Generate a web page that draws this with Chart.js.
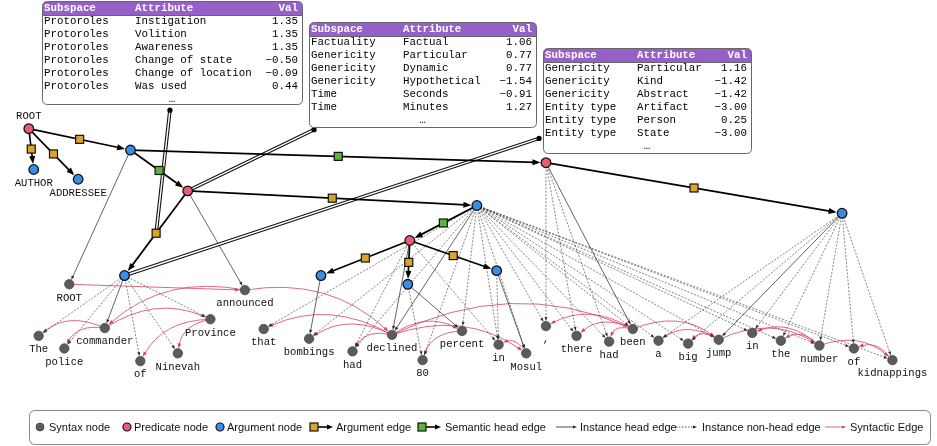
<!DOCTYPE html>
<html>
<head>
<meta charset="utf-8">
<script src="https://cdn.jsdelivr.net/npm/chart.js@4.4.1/dist/chart.umd.min.js"></script>
<style>
  html, body { margin: 0; padding: 0; background: #fff; }
  #wrap { width: 937px; height: 446px; }
</style>
</head>
<body>
<div id="wrap"><canvas id="graph"></canvas></div>
<script>
// syntax tokens (grey nodes)
const tokenText = ['ROOT', 'The', 'police', 'commander', 'of', 'Ninevah', 'Province', 'announced',
  'that', 'bombings', 'had', 'declined', '80', 'percent', 'in', 'Mosul', ',', 'there', 'had', 'been',
  'a', 'big', 'jump', 'in', 'the', 'number', 'of', 'kidnappings'];
const tokenX = [64, 33, 59, 100, 136, 174, 207, 242, 261, 307, 351, 391, 422, 462, 499, 527,
  547, 578, 611, 635, 661, 691, 722, 756, 785, 824, 859, 898];
const tokenY = [286, 339, 352, 331, 365, 357, 322, 292, 332, 342, 355, 338, 364, 334, 348, 357,
  329, 339, 345, 332, 344, 347, 343, 336, 344, 349, 352, 364];

// semantic nodes (predicates / arguments)
const semText = ['ROOT', 'AUTHOR', 'ADDRESSEE', '', '', '', '', '', '', '', '', '', ''];
const semKind = ['pred', 'arg', 'arg', 'arg', 'pred', 'arg', 'pred', 'arg', 'pred', 'arg', 'arg', 'arg', 'arg'];
const semX = [23, 28, 73, 126, 184, 120, 547, 477, 409, 319, 407, 497, 847];
const semY = [126, 168, 178, 148, 190, 277, 161, 205, 241, 277, 286, 272, 213];

// edges: [from, to]
const argumentEdges = [[0, 1], [0, 2], [0, 3], [4, 5], [4, 7], [8, 9], [8, 10], [8, 11], [6, 12]];
const semHeadEdges = [[3, 4], [3, 6], [7, 8]];
// semantic node -> token
const instanceHead = [[3, 0], [4, 7], [5, 3], [7, 11], [6, 19], [8, 11], [9, 9], [10, 13], [11, 15], [12, 22]];
const instanceNonHead = [[5, 1], [5, 2], [5, 4], [5, 5], [5, 6],
  [7, 8], [7, 9], [7, 10], [7, 12], [7, 13], [7, 14], [7, 15], [7, 16], [7, 17], [7, 18], [7, 19],
  [7, 20], [7, 21], [7, 22], [7, 23], [7, 24], [7, 25], [7, 26], [7, 27],
  [6, 16], [6, 17], [6, 18], [8, 10], [8, 14], [10, 12], [11, 14],
  [12, 20], [12, 21], [12, 23], [12, 24], [12, 25], [12, 26], [12, 27]];
// token head -> dependent
const syntacticEdges = [[0, 7], [7, 3], [3, 1], [3, 2], [3, 6], [6, 4], [6, 5], [7, 11], [11, 8],
  [11, 9], [11, 10], [11, 13], [13, 12], [11, 15], [15, 14], [11, 19], [19, 16], [19, 17], [19, 18],
  [19, 22], [22, 20], [22, 21], [22, 25], [25, 23], [25, 24], [25, 27], [27, 26]];

// attribute tables
const tableHeader = ['Subspace', 'Attribute', 'Val'];
const protoroleRows = [
  ['Protoroles', 'Instigation', 1.35], ['Protoroles', 'Volition', 1.35], ['Protoroles', 'Awareness', 1.35],
  ['Protoroles', 'Change of state', -0.50], ['Protoroles', 'Change of location', -0.09], ['Protoroles', 'Was used', 0.44]];
const predicateRows = [
  ['Factuality', 'Factual', 1.06], ['Genericity', 'Particular', 0.77], ['Genericity', 'Dynamic', 0.77],
  ['Genericity', 'Hypothetical', -1.54], ['Time', 'Seconds', -0.91], ['Time', 'Minutes', 1.27]];
const argumentRows = [
  ['Genericity', 'Particular', 1.16], ['Genericity', 'Kind', -1.42], ['Genericity', 'Abstract', -1.42],
  ['Entity type', 'Artifact', -3.00], ['Entity type', 'Person', 0.25], ['Entity type', 'State', -3.00]];

// layout of the tables (where they sit, which element they describe)
const tableLayout = [
  { rows: protoroleRows, x: 42, y: 1, w: 260, h: 103, cols: [2, 93, 256], anchor: [166, 107], edge: 3 },
  { rows: predicateRows, x: 309, y: 22, w: 227, h: 105, cols: [2, 94, 223], anchor: [312, 127], node: 4 },
  { rows: argumentRows, x: 543, y: 48, w: 208, h: 105, cols: [2, 94, 204], anchor: [540, 136], node: 5 }
];

const COLORS = {
  syntax: '#5b5b5b', pred: '#ec5b75', arg: '#3a8de6', argEdge: '#d9a42a', headEdge: '#5db43a',
  red: '#d8425f', purple: '#9660c8'
};
const MONO = '"Liberation Mono", "Courier New", monospace';
const SANS = '"Liberation Sans", Arial, sans-serif';

function arrowHead(ctx, x, y, a, len, wid, color) {
  ctx.save();
  ctx.fillStyle = color;
  ctx.beginPath();
  ctx.moveTo(x, y);
  ctx.lineTo(x - len * Math.cos(a) + wid / 2 * Math.sin(a), y - len * Math.sin(a) - wid / 2 * Math.cos(a));
  ctx.lineTo(x - len * Math.cos(a) - wid / 2 * Math.sin(a), y - len * Math.sin(a) + wid / 2 * Math.cos(a));
  ctx.closePath();
  ctx.fill();
  ctx.restore();
}

function arrowLine(ctx, x1, y1, x2, y2, o) {
  const a = Math.atan2(y2 - y1, x2 - x1);
  const ex = x2 - Math.cos(a) * o.trim, ey = y2 - Math.sin(a) * o.trim;
  ctx.save();
  ctx.strokeStyle = o.color;
  ctx.lineWidth = o.lw;
  ctx.setLineDash(o.dash || []);
  ctx.beginPath();
  ctx.moveTo(x1, y1);
  ctx.lineTo(ex - Math.cos(a) * o.len * 0.7, ey - Math.sin(a) * o.len * 0.7);
  ctx.stroke();
  ctx.restore();
  arrowHead(ctx, ex, ey, a, o.len, o.wid, o.color);
}

// curved syntactic edge, always bulging upwards
function arcLine(ctx, x1, y1, x2, y2, o) {
  const dx = x2 - x1, dy = y2 - y1, d = Math.hypot(dx, dy);
  let nx = -dy / d, ny = dx / d;
  if (ny > 0) { nx = -nx; ny = -ny; }
  const off = 0.2 * d + 7;
  const cx = (x1 + x2) / 2 + nx * off, cy = (y1 + y2) / 2 + ny * off;
  const a = Math.atan2(y2 - cy, x2 - cx);
  const ex = x2 - Math.cos(a) * o.trim, ey = y2 - Math.sin(a) * o.trim;
  ctx.save();
  ctx.strokeStyle = o.color;
  ctx.lineWidth = o.lw;
  ctx.beginPath();
  ctx.moveTo(x1, y1);
  ctx.quadraticCurveTo(cx, cy, ex - Math.cos(a) * o.len * 0.6, ey - Math.sin(a) * o.len * 0.6);
  ctx.stroke();
  ctx.restore();
  arrowHead(ctx, ex, ey, a, o.len, o.wid, o.color);
}

function roundRect(ctx, x, y, w, h, r) {
  ctx.beginPath();
  ctx.moveTo(x + r, y);
  ctx.lineTo(x + w - r, y);
  ctx.quadraticCurveTo(x + w, y, x + w, y + r);
  ctx.lineTo(x + w, y + h - r);
  ctx.quadraticCurveTo(x + w, y + h, x + w - r, y + h);
  ctx.lineTo(x + r, y + h);
  ctx.quadraticCurveTo(x, y + h, x, y + h - r);
  ctx.lineTo(x, y + r);
  ctx.quadraticCurveTo(x, y, x + r, y);
  ctx.closePath();
}

function fmt(v) {
  return (v < 0 ? '\u2212' : '') + Math.abs(v).toFixed(2);
}

const graphPlugin = {
  id: 'graph',
  beforeDatasetsDraw(chart) {
    const ctx = chart.ctx;
    const sx = v => chart.scales.x.getPixelForValue(v);
    const sy = v => chart.scales.y.getPixelForValue(v);
    const tok = i => [sx(tokenX[i]), sy(tokenY[i])];
    const sem = i => [sx(semX[i]), sy(semY[i])];
    const allSemEdges = argumentEdges.map(e => [e[0], e[1], 'arg']).concat(semHeadEdges.map(e => [e[0], e[1], 'head']));
    const mid = e => { const a = sem(e[0]), b = sem(e[1]); return [(a[0] + b[0]) / 2, (a[1] + b[1]) / 2]; };

    // syntactic edges
    syntacticEdges.forEach(([h, d]) => {
      const a = tok(h), b = tok(d);
      const o = { color: COLORS.red, lw: 0.8, trim: 5, len: 5, wid: 3.6 };
      if (h === 0) arrowLine(ctx, a[0], a[1], b[0], b[1], o);
      else arcLine(ctx, a[0], a[1], b[0], b[1], o);
    });

    // instance edges
    instanceNonHead.forEach(([s, t]) => {
      const a = sem(s), b = tok(t);
      arrowLine(ctx, a[0], a[1], b[0], b[1], { color: '#333', lw: 0.6, dash: [2, 1.5], trim: 5, len: 4, wid: 3 });
    });
    instanceHead.forEach(([s, t]) => {
      const a = sem(s), b = tok(t);
      arrowLine(ctx, a[0], a[1], b[0], b[1], { color: '#222', lw: 0.7, trim: 5, len: 4, wid: 3 });
    });

    // table connectors (double lines)
    tableLayout.forEach(t => {
      const a = [sx(t.anchor[0]), sy(t.anchor[1])];
      const b = t.node !== undefined ? sem(t.node) : mid(argumentEdges[t.edge]);
      ctx.save();
      ctx.lineCap = 'butt';
      ctx.strokeStyle = '#111';
      ctx.lineWidth = 3.6;
      ctx.beginPath(); ctx.moveTo(a[0], a[1]); ctx.lineTo(b[0], b[1]); ctx.stroke();
      ctx.strokeStyle = '#fff';
      ctx.lineWidth = 1.4;
      ctx.beginPath(); ctx.moveTo(a[0], a[1]); ctx.lineTo(b[0], b[1]); ctx.stroke();
      ctx.fillStyle = '#000';
      ctx.beginPath(); ctx.arc(a[0], a[1], 2.6, 0, Math.PI * 2); ctx.fill();
      ctx.restore();
    });

    // semantic edges with square markers at midpoints
    allSemEdges.forEach(e => {
      const a = sem(e[0]), b = sem(e[1]);
      arrowLine(ctx, a[0], a[1], b[0], b[1], { color: '#000', lw: 1.7, trim: 5.5, len: 8, wid: 6 });
    });
    allSemEdges.forEach(e => {
      const m = mid(e);
      ctx.save();
      ctx.fillStyle = e[2] === 'arg' ? COLORS.argEdge : COLORS.headEdge;
      ctx.strokeStyle = '#111';
      ctx.lineWidth = 1.2;
      ctx.fillRect(m[0] - 4, m[1] - 4, 8, 8);
      ctx.strokeRect(m[0] - 4, m[1] - 4, 8, 8);
      ctx.restore();
    });
  },
  afterDatasetsDraw(chart) {
    const ctx = chart.ctx;
    const sx = v => chart.scales.x.getPixelForValue(v);
    const sy = v => chart.scales.y.getPixelForValue(v);

    // node labels
    ctx.save();
    ctx.font = '10.6px ' + MONO;
    ctx.fillStyle = '#111';
    ctx.textAlign = 'center';
    ctx.textBaseline = 'middle';
    tokenText.forEach((t, i) => ctx.fillText(t, sx(tokenX[i]), sy(tokenY[i]) + 13.5));
    semText.forEach((t, i) => {
      if (!t) return;
      const dy = semKind[i] === 'pred' ? -12 : 14;
      ctx.fillText(t, sx(semX[i]), sy(semY[i]) + dy);
    });
    ctx.restore();

    // tables
    tableLayout.forEach(t => {
      ctx.save();
      roundRect(ctx, t.x + 0.5, t.y + 0.5, t.w, t.h, 5);
      ctx.fillStyle = '#fff';
      ctx.fill();
      ctx.save();
      ctx.clip();
      ctx.fillStyle = COLORS.purple;
      ctx.fillRect(t.x, t.y, t.w + 1, 14);
      ctx.restore();
      ctx.strokeStyle = '#666';
      ctx.lineWidth = 1;
      roundRect(ctx, t.x + 0.5, t.y + 0.5, t.w, t.h, 5);
      ctx.stroke();
      ctx.beginPath();
      ctx.moveTo(t.x, t.y + 14.5); ctx.lineTo(t.x + t.w, t.y + 14.5);
      ctx.stroke();

      ctx.font = 'bold 10.8px ' + MONO;
      ctx.textBaseline = 'middle';
      ctx.fillStyle = '#fff';
      ctx.textAlign = 'left';
      ctx.fillText(tableHeader[0], t.x + t.cols[0], t.y + 7.5);
      ctx.fillText(tableHeader[1], t.x + t.cols[1], t.y + 7.5);
      ctx.textAlign = 'right';
      ctx.fillText(tableHeader[2], t.x + t.cols[2], t.y + 7.5);

      ctx.font = '10.8px ' + MONO;
      ctx.fillStyle = '#000';
      t.rows.forEach((r, i) => {
        const y = t.y + 7 + 13.1 * (i + 1);
        ctx.textAlign = 'left';
        ctx.fillText(r[0], t.x + t.cols[0], y);
        ctx.fillText(r[1], t.x + t.cols[1], y);
        ctx.textAlign = 'right';
        ctx.fillText(fmt(r[2]), t.x + t.cols[2], y);
      });
      ctx.textAlign = 'center';
      ctx.fillText('\u2026', t.x + t.w / 2, t.y + 6 + 13.1 * 7);
      ctx.restore();
    });

    // legend
    const L = { x: 29, y: 410, w: 901, h: 34, cy: 427 };
    ctx.save();
    roundRect(ctx, L.x + 0.5, L.y + 0.5, L.w, L.h, 6);
    ctx.strokeStyle = '#888';
    ctx.lineWidth = 1;
    ctx.stroke();
    ctx.font = '11px ' + SANS;
    ctx.textBaseline = 'middle';
    ctx.textAlign = 'left';
    const items = [
      { icon: 'syntax', ix: 40, tx: 49, text: 'Syntax node' },
      { icon: 'pred', ix: 127, tx: 134, text: 'Predicate node' },
      { icon: 'arg', ix: 220, tx: 227, text: 'Argument node' },
      { icon: 'argEdge', ix: 310, tx: 336, text: 'Argument edge' },
      { icon: 'headEdge', ix: 418, tx: 445, text: 'Semantic head edge' },
      { icon: 'inst', ix: 556, tx: 580, text: 'Instance head edge' },
      { icon: 'instDot', ix: 676, tx: 702, text: 'Instance non-head edge' },
      { icon: 'red', ix: 825, tx: 850, text: 'Syntactic Edge' }
    ];
    items.forEach(it => {
      const cy = L.cy;
      if (it.icon === 'syntax' || it.icon === 'pred' || it.icon === 'arg') {
        ctx.beginPath();
        ctx.arc(it.ix, cy, 4, 0, Math.PI * 2);
        ctx.fillStyle = COLORS[it.icon];
        ctx.fill();
        ctx.lineWidth = it.icon === 'syntax' ? 0.8 : 1.2;
        ctx.strokeStyle = it.icon === 'syntax' ? '#444' : '#111';
        ctx.stroke();
      } else if (it.icon === 'argEdge' || it.icon === 'headEdge') {
        arrowLine(ctx, it.ix + 4, cy, it.ix + 23, cy, { color: '#000', lw: 1.6, trim: 0, len: 6, wid: 5 });
        ctx.fillStyle = COLORS[it.icon];
        ctx.strokeStyle = '#111';
        ctx.lineWidth = 1.2;
        ctx.fillRect(it.ix, cy - 4, 8, 8);
        ctx.strokeRect(it.ix, cy - 4, 8, 8);
      } else {
        const o = { color: it.icon === 'red' ? COLORS.red : '#222', lw: 0.8, trim: 0, len: 4, wid: 3 };
        if (it.icon === 'instDot') o.dash = [1.5, 1.5];
        arrowLine(ctx, it.ix, cy, it.ix + 21, cy, o);
      }
      ctx.fillStyle = '#111';
      ctx.fillText(it.text, it.tx, cy + 0.5);
    });
    ctx.restore();
  }
};

const pts = (xs, ys, keep) => xs.map((x, i) => ({ x: x, y: ys[i] })).filter((p, i) => keep(i));

new Chart(document.getElementById('graph'), {
  type: 'scatter',
  data: {
    datasets: [
      {
        label: 'Syntax node',
        data: pts(tokenX, tokenY, () => true),
        pointRadius: 4.7,
        backgroundColor: COLORS.syntax,
        borderColor: '#4a4a4a',
        borderWidth: 0.8
      },
      {
        label: 'Predicate node',
        data: pts(semX, semY, i => semKind[i] === 'pred'),
        pointRadius: 4.8,
        backgroundColor: COLORS.pred,
        borderColor: '#111',
        borderWidth: 1.3
      },
      {
        label: 'Argument node',
        data: pts(semX, semY, i => semKind[i] === 'arg'),
        pointRadius: 4.8,
        backgroundColor: COLORS.arg,
        borderColor: '#111',
        borderWidth: 1.3
      }
    ]
  },
  options: {
    responsive: true,
    maintainAspectRatio: false,
    animation: false,
    events: [],
    layout: { padding: 0 },
    plugins: { legend: { display: false }, tooltip: { enabled: false } },
    scales: {
      x: { type: 'linear', min: 0, max: 937, display: false },
      y: { type: 'linear', min: 0, max: 446, reverse: true, display: false }
    }
  },
  plugins: [graphPlugin]
});
</script>
</body>
</html>
